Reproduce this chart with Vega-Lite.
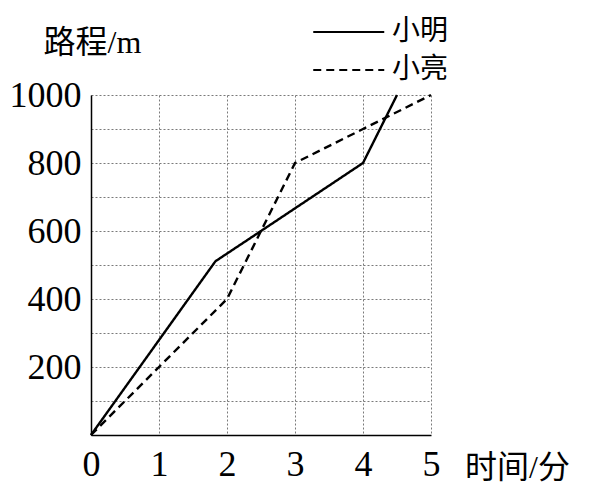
{
  "$schema": "https://vega.github.io/schema/vega-lite/v6.json",
  "width": 340,
  "height": 340,
  "autosize": {"type": "none"},
  "padding": {"left": 91, "top": 95, "right": 160, "bottom": 48},
  "background": "white",
  "config": {
    "view": {"stroke": null},
    "axis": {
      "grid": true,
      "gridColor": "#7a7a7a",
      "gridDash": [2, 2],
      "gridWidth": 1,
      "domain": true,
      "domainColor": "black",
      "domainWidth": 1.5,
      "ticks": false,
      "tickCount": 20,
      "labelFont": "'Liberation Serif', 'Noto Sans CJK SC'",
      "labelColor": "black",
      "labelFontSize": 36,
      "titleFont": "'Liberation Serif', 'Noto Sans CJK SC'",
      "titleFontSize": 32,
      "titleFontWeight": "normal",
      "titleColor": "black",
      "titleAngle": 0,
      "titleAlign": "center",
      "titleBaseline": "middle"
    }
  },
  "datasets": {
    "lines": [
      {"person": "小明", "time": 0, "distance": 0},
      {"person": "小明", "time": 1.83, "distance": 511},
      {"person": "小明", "time": 2.5, "distance": 600},
      {"person": "小明", "time": 4, "distance": 800},
      {"person": "小明", "time": 4.5, "distance": 1000},
      {"person": "小亮", "time": 0, "distance": 0},
      {"person": "小亮", "time": 2, "distance": 400},
      {"person": "小亮", "time": 3, "distance": 800},
      {"person": "小亮", "time": 4, "distance": 900},
      {"person": "小亮", "time": 5, "distance": 1000}
    ]
  },
  "layer": [
    {
      "data": {"name": "lines"},
      "mark": {"type": "line", "color": "black", "strokeWidth": 2.4},
      "encoding": {
        "x": {
          "field": "time",
          "type": "quantitative",
          "scale": {"domain": [0, 5], "nice": false},
          "axis": {
            "values": [0, 0.5, 1, 1.5, 2, 2.5, 3, 3.5, 4, 4.5, 5],
            "tickCount": 20,
            "format": "d",
            "labelExpr": "datum.value % 1 === 0 ? datum.label : ''",
            "labelPadding": 12,
            "labelFlush": false,
            "labelOverlap": false,
            "title": "时间/分",
            "titleX": 426,
            "titleY": 32
          }
        },
        "y": {
          "field": "distance",
          "type": "quantitative",
          "scale": {"domain": [0, 1000], "nice": false},
          "axis": {
            "values": [0, 100, 200, 300, 400, 500, 600, 700, 800, 900, 1000],
            "tickCount": 20,
            "format": "d",
            "labelExpr": "datum.value % 200 === 0 && datum.value > 0 ? datum.label : ''",
            "labelPadding": 10,
            "labelFlush": false,
            "labelOverlap": false,
            "title": "路程/m",
            "titleX": 1,
            "titleY": -53
          }
        },
        "strokeDash": {
          "field": "person",
          "type": "nominal",
          "scale": {"domain": ["小明", "小亮"], "range": [[1, 0], [8, 5]]},
          "legend": {
            "orient": "none",
            "legendX": 221,
            "legendY": -82,
            "padding": 0,
            "title": null,
            "symbolType": "M-1,0L3,0",
            "symbolSize": 1260,
            "symbolStrokeWidth": 2,
            "symbolStrokeColor": "black",
            "symbolFillColor": "transparent",
            "labelFont": "'Noto Sans CJK SC'",
            "labelFontSize": 28,
            "labelColor": "black",
            "labelOffset": 42,
            "rowPadding": 5,
            "encode": {
              "symbols": {
                "update": {
                  "strokeDash": {"signal": "datum.label === '小亮' ? [12, 8] : [1, 0]"}
                }
              }
            }
          }
        }
      }
    },
    {
      "mark": {"type": "rule", "color": "black", "strokeWidth": 1.5},
      "encoding": {
        "x": {"datum": 0, "type": "quantitative"},
        "y": {"datum": 0, "type": "quantitative"},
        "y2": {"datum": 1085}
      }
    },
    {
      "mark": {"type": "rule", "color": "black", "strokeWidth": 1.5},
      "encoding": {
        "y": {"datum": 0, "type": "quantitative"},
        "x": {"datum": 0, "type": "quantitative"},
        "x2": {"datum": 6.0}
      }
    },
    {
      "mark": {"type": "point", "shape": "M0,0L0.55,2L-0.55,2Z", "filled": true, "color": "black", "opacity": 1, "size": 196, "strokeWidth": 0},
      "encoding": {
        "x": {"datum": 0, "type": "quantitative"},
        "y": {"datum": 1095, "type": "quantitative"}
      }
    },
    {
      "mark": {"type": "point", "shape": "M0,0L-2,-0.55L-2,0.55Z", "filled": true, "color": "black", "opacity": 1, "size": 196, "strokeWidth": 0},
      "encoding": {
        "x": {"datum": 6.06, "type": "quantitative"},
        "y": {"datum": 0, "type": "quantitative"}
      }
    }
  ]
}
